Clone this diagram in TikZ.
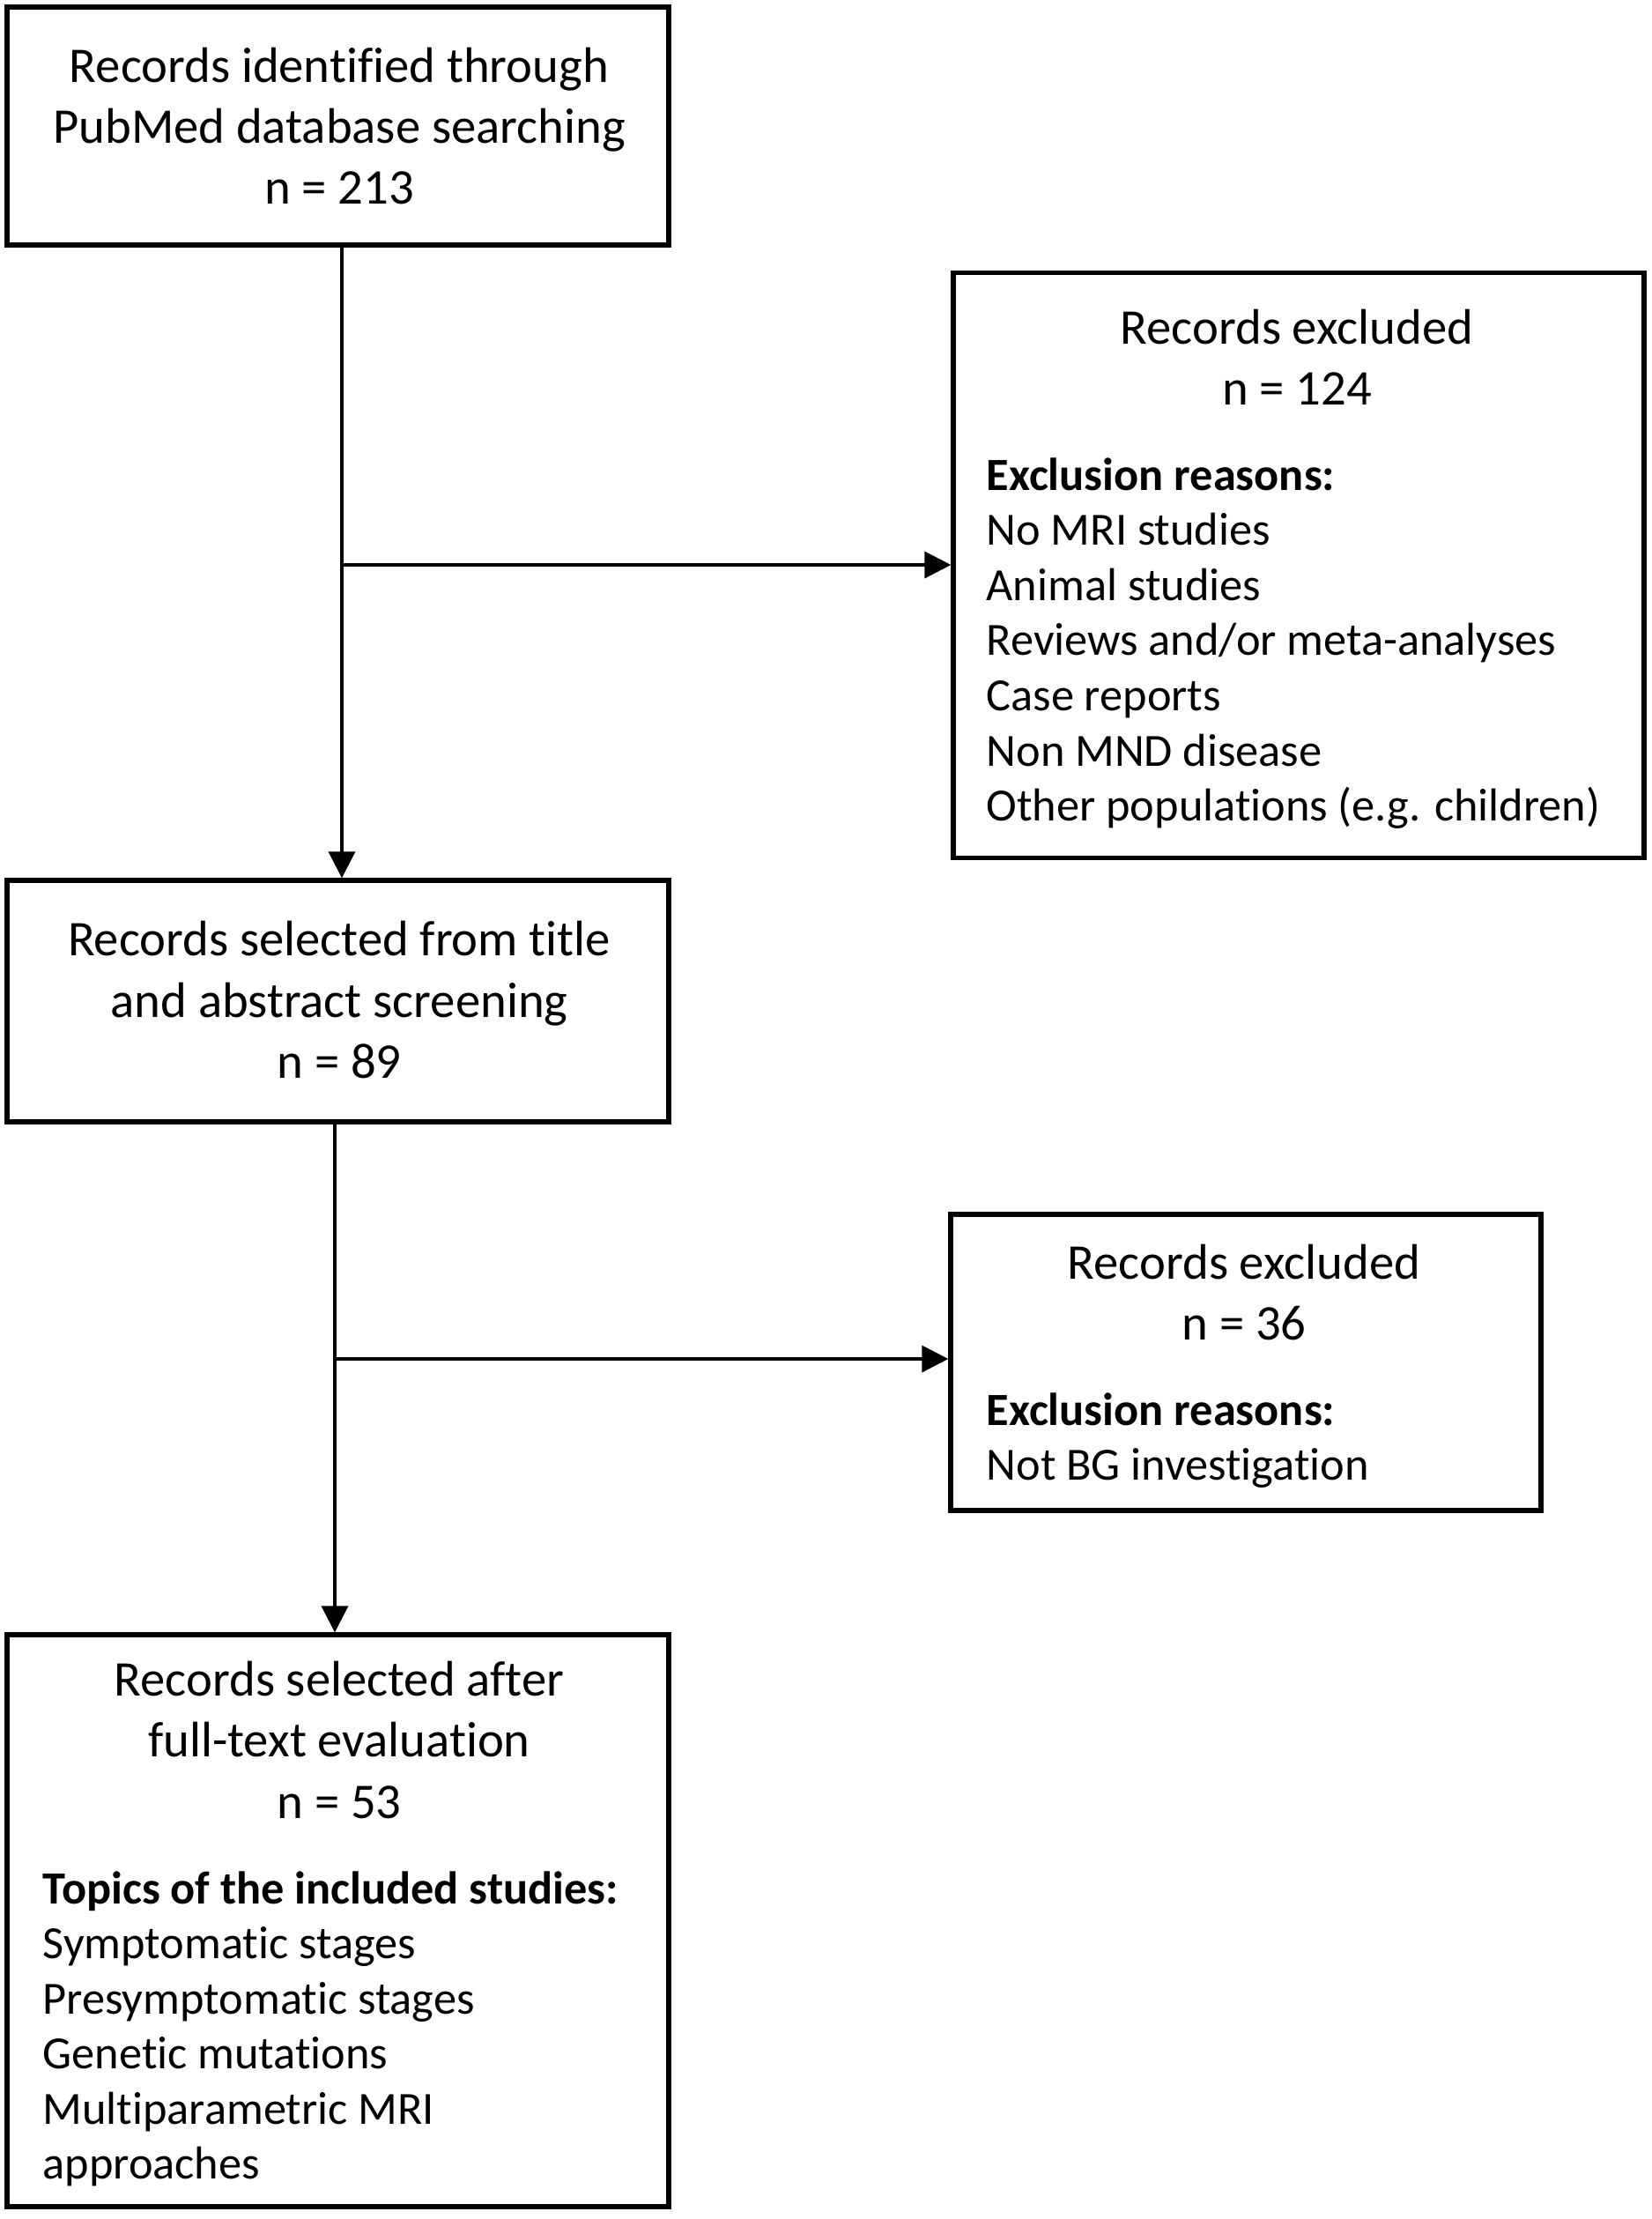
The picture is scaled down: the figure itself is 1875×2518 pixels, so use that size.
\documentclass[tikz,border=0pt]{standalone}
\usepackage{fontspec}
\setmainfont{Carlito}[Ligatures=NoCommon]
\usetikzlibrary{arrows.meta}
\tikzset{
  box/.style={draw=black, line width=1.6pt, rectangle, inner sep=0pt},
  arr/.style={draw=black, line width=1.1pt, -{Triangle[length=9pt,width=9pt]}},
  head/.style={font=\fontsize{17}{20}\selectfont, anchor=base, inner sep=0pt},
  bhead/.style={font=\fontsize{15.7}{19}\selectfont\bfseries, anchor=base west, inner sep=0pt},
  item/.style={font=\fontsize{15.7}{19}\selectfont, anchor=base west, inner sep=0pt}
}
\begin{document}
\begin{tikzpicture}[x=0.3pt,y=-0.3pt]
\useasboundingbox[fill=white] (0,0) rectangle (1875,2518);
% boxes
\node[box, minimum width=225.3pt, minimum height=81pt] (b1) at (383.5,143) {};
\node[box, minimum width=235.2pt, minimum height=199.2pt] (b2) at (1474,641.5) {};
\node[box, minimum width=225.3pt, minimum height=82.2pt] (b3) at (383.5,1136) {};
\node[box, minimum width=201pt, minimum height=100.8pt] (b4) at (1414,1546) {};
\node[box, minimum width=225.3pt, minimum height=194.7pt] (b5) at (383.5,2179.5) {};
% box 1 text
\node[head] (t1a) at (385,93) {Records identified through};
\node[head] (t1b) at (385,162) {PubMed database searching};
\node[head] (t1c) at (385,231) {n = 213};
% box 2 text
\node[head] (t2a) at (1472,390) {Records excluded};
\node[head] (t2b) at (1472,459) {n = 124};
\node[bhead] (t2c) at (1119,556) {Exclusion reasons:};
\node[item] (t2d) at (1119,618.6) {No MRI studies};
\node[item] (t2e) at (1119,681.2) {Animal studies};
\node[item] (t2f) at (1119,743.8) {Reviews and/or meta-analyses};
\node[item] (t2g) at (1119,806.4) {Case reports};
\node[item] (t2h) at (1119,869) {Non MND disease};
\node[item] (t2i) at (1119,931.6) {Other populations (e.g. children)};
% box 3 text
\node[head] (t3a) at (385,1084) {Records selected from title};
\node[head] (t3b) at (385,1154) {and abstract screening};
\node[head] (t3c) at (385,1223) {n = 89};
% box 4 text
\node[head] (t4a) at (1412,1451) {Records excluded};
\node[head] (t4b) at (1412,1520) {n = 36};
\node[bhead] (t4c) at (1119,1617) {Exclusion reasons:};
\node[item] (t4d) at (1119,1679.5) {Not BG investigation};
% box 5 text
\node[head] (t5a) at (385,1924) {Records selected after};
\node[head] (t5b) at (385,1993) {full-text evaluation};
\node[head] (t5c) at (385,2063) {n = 53};
\node[bhead] (t5d) at (48,2160) {Topics of the included studies:};
\node[item] (t5e) at (48,2222.5) {Symptomatic stages};
\node[item] (t5f) at (48,2285) {Presymptomatic stages};
\node[item] (t5g) at (48,2347.5) {Genetic mutations};
\node[item] (t5h) at (48,2410) {Multiparametric MRI};
\node[item] (t5i) at (48,2472.5) {approaches};
% connectors
\coordinate (j1) at (388,641);
\coordinate (j2) at (380,1542);
\draw[arr] (j1 |- b1.south) -- (j1 |- b3.north);
\draw[arr] (j1) -- (j1 -| b2.west);
\draw[arr] (j2 |- b3.south) -- (j2 |- b5.north);
\draw[arr] (j2) -- (j2 -| b4.west);
\end{tikzpicture}
\end{document}
